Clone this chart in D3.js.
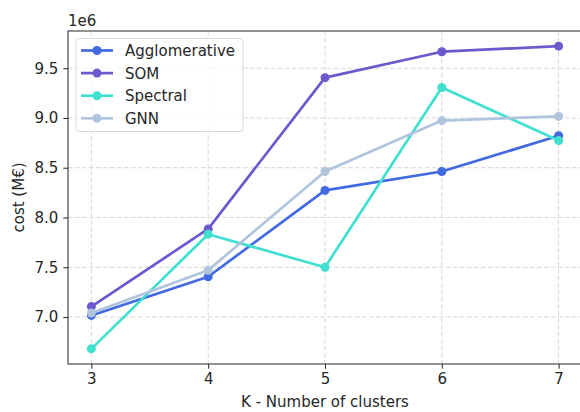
<!DOCTYPE html>
<meta charset="utf-8">
<style>
body { margin: 0; background: #fff; }
svg text { font-family: "DejaVu Sans", sans-serif; fill: #262626; }
.grid line { stroke: #d6d6d6; stroke-dasharray: 4.5,2.5; stroke-width: 1px; }
.axis line { stroke: #262626; }
.axis path.domain { display: none; }
</style>
<svg width="580" height="412"></svg>
<script src="https://d3js.org/d3.v7.min.js"></script>
<script>

// data (cost in units of 1e6 M€)
let kValues = [3, 4, 5, 6, 7];
let agglomerative = [7.016, 7.405, 8.272, 8.462, 8.822];
let som = [7.105, 7.885, 9.405, 9.666, 9.722];
let spectral = [6.68, 7.832, 7.50, 9.306, 8.773];
let gnn = [7.04, 7.47, 8.462, 8.974, 9.016];
let seriesNames = ["Agglomerative", "SOM", "Spectral", "GNN"];
let seriesColors = ["#4169e1", "#6a5acd", "#40e0d0", "#b0c4de"];
let yTicks = [7.0, 7.5, 8.0, 8.5, 9.0, 9.5];

let seriesValues = [agglomerative, som, spectral, gnn];

let svg = d3.select("svg");
let plotLeft = 68, plotRight = 582, plotTop = 31, plotBottom = 364;
let fontPx = 15;

let x = d3.scaleLinear().domain([2.8, 7.2]).range([plotLeft, plotRight]);
let allVals = seriesValues.flat();
let ymin = d3.min(allVals), ymax = d3.max(allVals);
let pad = (ymax - ymin) * 0.05;
let y = d3.scaleLinear().domain([ymin - pad, ymax + pad]).range([plotBottom, plotTop]);

// grid
let grid = svg.append("g").attr("class", "grid");
grid.selectAll(".gx").data(kValues).enter().append("line")
  .attr("x1", d => x(d)).attr("x2", d => x(d))
  .attr("y1", plotTop).attr("y2", plotBottom);
grid.selectAll(".gy").data(yTicks).enter().append("line")
  .attr("x1", plotLeft).attr("x2", plotRight)
  .attr("y1", d => y(d)).attr("y2", d => y(d));

// axes
svg.append("g").attr("class", "axis")
  .attr("transform", "translate(0," + plotBottom + ")")
  .call(d3.axisBottom(x).tickValues(kValues).tickFormat(d3.format("d")).tickSizeOuter(0).tickSize(4.7).tickPadding(5))
  .attr("font-size", fontPx).attr("font-family", null);
svg.append("g").attr("class", "axis")
  .attr("transform", "translate(" + plotLeft + ",0)")
  .call(d3.axisLeft(y).tickValues(yTicks).tickFormat(d3.format(".1f")).tickSizeOuter(0).tickSize(4.7).tickPadding(5))
  .attr("font-size", fontPx).attr("font-family", null);

// frame
svg.append("rect")
  .attr("x", plotLeft).attr("y", plotTop)
  .attr("width", plotRight - plotLeft).attr("height", plotBottom - plotTop)
  .attr("fill", "none").attr("stroke", "#262626").attr("stroke-width", 1);

// lines
let line = d3.line().x((d, i) => x(kValues[i])).y(d => y(d));
seriesValues.forEach(function(vals, s) {
  let g = svg.append("g");
  g.append("path").datum(vals)
    .attr("d", line)
    .attr("fill", "none")
    .attr("stroke", seriesColors[s])
    .attr("stroke-width", 2.7)
    .attr("stroke-linejoin", "round");
  g.selectAll("circle").data(vals).enter().append("circle")
    .attr("cx", (d, i) => x(kValues[i]))
    .attr("cy", d => y(d))
    .attr("r", 4.5)
    .attr("fill", seriesColors[s]);
});

// legend
let legend = svg.append("g");
legend.append("rect")
  .attr("x", 76).attr("y", 38.5).attr("width", 167).attr("height", 93)
  .attr("rx", 3).attr("fill", "#fff").attr("fill-opacity", 0.8)
  .attr("stroke", "#d9d9d9").attr("stroke-width", 1);
seriesNames.forEach(function(name, i) {
  let ly = 50.5 + i * 22.6;
  legend.append("line")
    .attr("x1", 81).attr("x2", 113).attr("y1", ly).attr("y2", ly)
    .attr("stroke", seriesColors[i]).attr("stroke-width", 2.7);
  legend.append("circle").attr("cx", 97).attr("cy", ly).attr("r", 4.5)
    .attr("fill", seriesColors[i]);
  legend.append("text").attr("x", 125).attr("y", ly + 5.5)
    .attr("font-size", fontPx).text(name);
});

// labels
svg.append("text").attr("x", 68).attr("y", 26).attr("font-size", fontPx).text("1e6");
svg.append("text")
  .attr("x", (plotLeft + plotRight) / 2).attr("y", 407)
  .attr("text-anchor", "middle").attr("font-size", fontPx)
  .text("K - Number of clusters");
svg.append("text")
  .attr("transform", "translate(24," + ((plotTop + plotBottom) / 2) + ") rotate(-90)")
  .attr("text-anchor", "middle").attr("font-size", fontPx)
  .text("cost (M€)");

</script>
